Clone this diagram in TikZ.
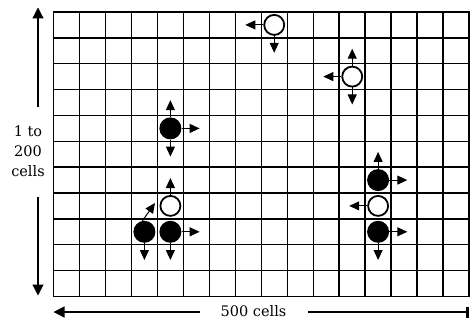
\documentclass[tikz,border=0pt]{standalone}
\usepackage{fontspec}
\setmainfont{DejaVu Serif}
\usetikzlibrary{arrows.meta}
\begin{document}
\begin{tikzpicture}[x=1pt,y=-1pt,
  gridline/.style={line width=1.4pt,black,line cap=rect},
  filledcell/.style={circle,fill=black,inner sep=0pt,minimum size=22pt},
  opencell/.style={circle,draw=black,fill=white,line width=1.8pt,inner sep=0pt,minimum size=20pt},
  movearrow/.style={line width=1pt,-{Triangle[length=10pt,width=9pt]}},
  axisarrow/.style={line width=1.2pt,-{Triangle[length=11pt,width=11pt]}},
  axisbar/.style={line width=1.2pt,-{Bar[width=11pt,line width=2.5pt]}},
  axislabel/.style={font=\fontsize{14.5}{20}\selectfont,inner sep=0pt,anchor=base}]
\useasboundingbox (0,0) rectangle (470,320);
% grid 16 x 11
\foreach \i in {0,...,16}
  \draw[gridline] ({53.5+25.97*\i},12) -- ({53.5+25.97*\i},296.5);
\foreach \j in {0,...,11}
  \draw[gridline] (53.5,{12+25.86*\j}) -- (469,{12+25.86*\j});
% cells
\node[opencell]   (o1) at (274.2,24.9) {};
\node[opencell]   (o2) at (352.2,76.6) {};
\node[filledcell] (f1) at (170.4,128.4) {};
\node[filledcell] (f2) at (144.4,231.8) {};
\node[filledcell] (f3) at (170.4,231.8) {};
\node[filledcell] (f4) at (378.1,180.1) {};
\node[filledcell] (f5) at (378.1,231.8) {};
\coordinate (dtip) at (155,203);
\draw[movearrow] (f2.100) -- (dtip);
\node[opencell]   (o3) at (170.4,205.9) {};
\node[opencell]   (o4) at (378.1,205.9) {};
% movement arrows
\draw[movearrow] (o1.west) -- ++(-18,0);
\draw[movearrow] (o1.south) -- ++(0,17);
\draw[movearrow] (o2.north) -- ++(0,-17);
\draw[movearrow] (o2.west) -- ++(-18,0);
\draw[movearrow] (o2.south) -- ++(0,17);
\draw[movearrow] (f1.north) -- ++(0,-17);
\draw[movearrow] (f1.east) -- ++(18,0);
\draw[movearrow] (f1.south) -- ++(0,17);
\draw[movearrow] (o3.north) -- ++(0,-17);
\draw[movearrow] (f2.south) -- ++(0,17);
\draw[movearrow] (f3.east) -- ++(18,0);
\draw[movearrow] (f3.south) -- ++(0,17);
\draw[movearrow] (f4.north) -- ++(0,-17);
\draw[movearrow] (f4.east) -- ++(18,0);
\draw[movearrow] (o4.west) -- ++(-18,0);
\draw[movearrow] (f5.east) -- ++(18,0);
\draw[movearrow] (f5.south) -- ++(0,17);
% vertical axis
\node[axislabel] (vl1) at (28,136.5) {1 to};
\node[axislabel] (vl2) at (28,156.5) {200};
\node[axislabel] (vl3) at (28,176.5) {cells};
\coordinate (vtop) at (38,7.5);
\coordinate (vtopgap) at (38,107);
\coordinate (vbotgap) at (38,197);
\coordinate (vbot) at (38,295.5);
\draw[axisarrow] (vtopgap) -- (vtop);
\draw[axisarrow] (vbotgap) -- (vbot);
% horizontal axis
\node[axislabel] (hl) at (253.5,316.5) {500 cells};
\coordinate (hleft) at (53.5,312);
\coordinate (hleftgap) at (200,312);
\coordinate (hrightgap) at (308,312);
\coordinate (hright) at (468.5,312);
\draw[axisarrow] (hleftgap) -- (hleft);
\draw[axisbar] (hrightgap) -- (hright);
\end{tikzpicture}
\end{document}
